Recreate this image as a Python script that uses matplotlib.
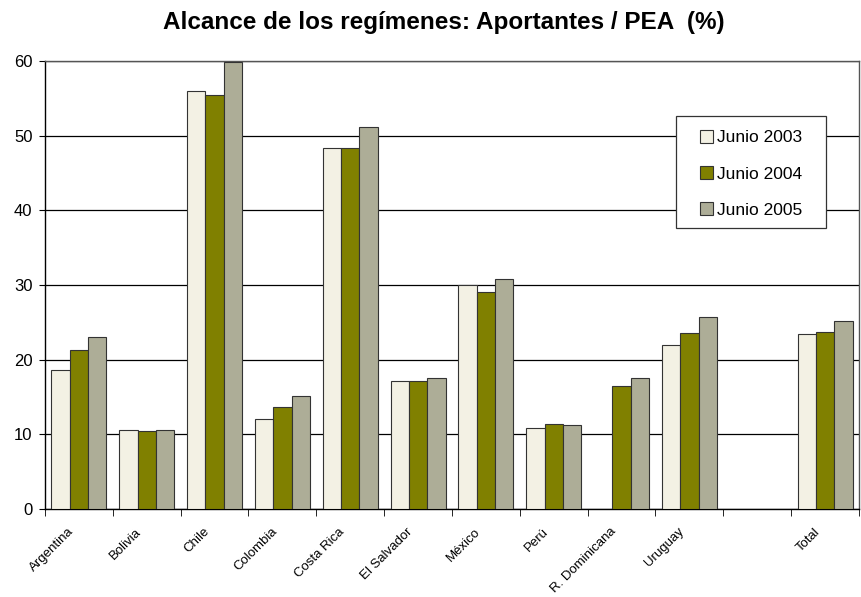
import numpy as np
import matplotlib
matplotlib.use("Agg")
import matplotlib.pyplot as plt
from matplotlib import font_manager as fm
from matplotlib.patches import Rectangle

categories = ["Argentina", "Bolivia", "Chile", "Colombia", "Costa Rica", "El Salvador",
              "México", "Perú", "R. Dominicana", "Uruguay", "", "Total"]
series_names = ["Junio 2003", "Junio 2004", "Junio 2005"]
jun2003 = [18.6, 10.6, 56.0, 12.0, 48.3, 17.2, 30.0, 10.9, np.nan, 21.9, np.nan, 23.4]
jun2004 = [21.3, 10.5, 55.5, 13.6, 48.3, 17.2, 29.0, 11.4, 16.5, 23.6, np.nan, 23.7]
jun2005 = [23.1, 10.6, 59.9, 15.2, 51.1, 17.5, 30.8, 11.25, 17.6, 25.7, np.nan, 25.2]
yticks = [0, 10, 20, 30, 40, 50, 60]

colors = ["#F3F1E4", "#808000", "#ADAD97"]

names = {f.name for f in fm.fontManager.ttflist}
base = "Liberation Sans" if "Liberation Sans" in names else "DejaVu Sans"
plt.rcParams["font.family"] = [base, "DejaVu Sans"]

W, H = 861, 597
fig = plt.figure(figsize=(W/100, H/100), dpi=100)
ax = fig.add_axes([45/W, 1-509/H, (859-45)/W, (509-61)/H])

x = np.arange(len(categories))
w = 0.27
for k, (vals, c, nm) in enumerate(zip([jun2003, jun2004, jun2005], colors, series_names)):
    v = np.array(vals, dtype=float)
    m = ~np.isnan(v)
    ax.bar((x + (k-1)*w)[m], v[m], width=w, color=c, edgecolor="#333333", linewidth=0.8,
           label=nm, zorder=3)

ax.set_xlim(-0.5, len(categories)-0.5)
ax.set_ylim(0, 60)
ax.set_yticks(yticks)
ax.yaxis.grid(True, color="black", linewidth=0.9, zorder=0)
ax.set_axisbelow(True)
ax.tick_params(axis="y", labelsize=12, length=4, direction="out", pad=5)

ax.set_xticks(x - 0.17)
ax.set_xticklabels(categories, rotation=45, ha="right", rotation_mode="anchor",
                   fontsize=9.5)
ax.tick_params(axis="x", which="major", length=0, pad=12)
ax.set_xticks(np.arange(-0.5, len(categories), 1), minor=True)
ax.tick_params(axis="x", which="minor", length=5, direction="out")

for s in ["left", "bottom"]:
    ax.spines[s].set_color("black")
    ax.spines[s].set_linewidth(1.0)
for s in ["top", "right"]:
    ax.spines[s].set_color("#555555")
    ax.spines[s].set_linewidth(1.0)

fig.text(444/W, 1-23/H, "Alcance de los regímenes: Aportantes / PEA  (%)",
         ha="center", va="center", fontsize=17.5, fontweight="bold")

# legend frame
frame = Rectangle((676/W, 1-228/H), 150/W, 112/H, transform=fig.transFigure,
                  facecolor="white", edgecolor="#333333", linewidth=0.9,
                  zorder=4, clip_on=False)
ax.add_patch(frame)
leg = ax.legend(loc="upper left", bbox_to_anchor=(700/W, 1-130/H),
                bbox_transform=fig.transFigure, frameon=False, fontsize=12.5,
                labelspacing=1.2, handlelength=0.75, handleheight=0.75,
                handletextpad=0.25, borderpad=0, borderaxespad=0)
leg.set_zorder(6)

fig.savefig("out.png", dpi=100)
